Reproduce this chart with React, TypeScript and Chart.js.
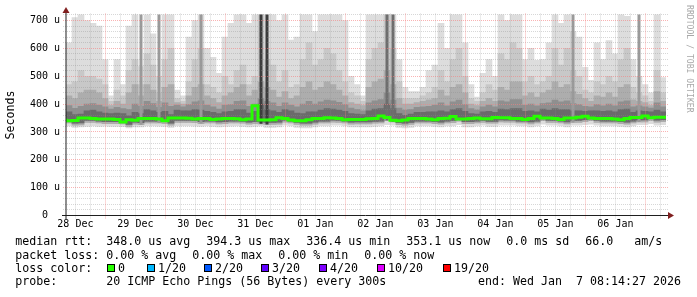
import React, { useEffect, useRef } from 'react';
import { Chart, registerables } from 'chart.js';

Chart.register(...registerables);

// ---- time axis (hours since 28 Dec 00:00) ----
const startHour = 8.24; // 28 Dec 08:14
const endHour = 248.24; // 07 Jan 08:14
const stepHours = 2.4; // width of one smoke column

const xTickHours = [12, 36, 60, 84, 108, 132, 156, 180, 204, 228];
const xTickLabels = ['28 Dec', '29 Dec', '30 Dec', '31 Dec', '01 Jan', '02 Jan', '03 Jan', '04 Jan', '05 Jan', '06 Jan'];
const yTickValues = [0, 100, 200, 300, 400, 500, 600, 700];
const yTickLabels = ['0  ', '100 u', '200 u', '300 u', '400 u', '500 u', '600 u', '700 u'];

// ---- median RTT (us) per column ----
const median = [
  348, 340, 341, 350, 350, 348, 346, 346, 346, 345,
  336, 344, 342, 348, 348, 348, 346, 340, 350, 350,
  350, 349, 346, 348, 348, 345, 346, 348, 348, 347,
  344, 346, 394, 343, 343, 344, 351, 348, 343, 340,
  340, 344, 348, 348, 351, 350, 348, 344, 345, 345,
  345, 347, 348, 357, 352, 342, 340, 343, 348, 348,
  348, 346, 344, 348, 349, 355, 346, 346, 348, 350,
  347, 347, 352, 351, 351, 348, 348, 345, 348, 356,
  350, 350, 348, 345, 350, 350, 353, 356, 350, 348,
  348, 348, 346, 344, 348, 352, 352, 357, 351, 353,
];

// ---- smoke bands (us) per column ----
const smokeMax = [
  620, 710, 725, 700, 690, 680, 560, 430, 560, 470,
  680, 725, 535, 725, 652, 500, 725, 725, 450, 430,
  640, 700, 725, 600, 568, 510, 640, 690, 725, 725,
  690, 725, 725, 725, 725, 700, 725, 630, 640, 725,
  725, 660, 725, 725, 725, 725, 700, 500, 470, 430,
  725, 725, 725, 725, 725, 560, 460, 445, 445, 460,
  520, 540, 690, 600, 725, 725, 620, 470, 425, 510,
  560, 500, 725, 700, 725, 725, 560, 600, 557, 560,
  620, 725, 690, 725, 660, 640, 532, 485, 620, 560,
  628, 580, 725, 715, 560, 500, 470, 440, 725, 495,
];
const band2Top = [
  470, 480, 520, 500, 500, 490, 470, 410, 450, 430,
  520, 560, 470, 580, 540, 440, 560, 600, 420, 410,
  480, 560, 600, 470, 460, 440, 500, 470, 520, 540,
  470, 500, 725, 560, 540, 480, 520, 460, 470, 560,
  620, 540, 560, 600, 580, 520, 480, 440, 430, 410,
  560, 600, 620, 725, 600, 480, 420, 420, 420, 430,
  440, 460, 520, 480, 560, 600, 500, 420, 410, 440,
  470, 450, 580, 560, 620, 600, 480, 500, 470, 480,
  500, 600, 540, 600, 520, 500, 450, 440, 480, 470,
  500, 480, 560, 600, 460, 440, 430, 410, 520, 440,
];
const band3Top = [
  430, 420, 440, 450, 450, 440, 420, 395, 410, 400,
  440, 470, 430, 470, 450, 410, 460, 470, 405, 400,
  430, 460, 470, 430, 420, 405, 430, 440, 460, 470,
  430, 450, 480, 460, 450, 425, 445, 420, 430, 460,
  480, 450, 460, 480, 470, 450, 430, 405, 400, 395,
  460, 480, 490, 520, 470, 420, 400, 400, 405, 410,
  415, 420, 450, 430, 460, 470, 440, 400, 395, 410,
  420, 410, 460, 450, 480, 480, 430, 440, 425, 440,
  450, 480, 460, 470, 445, 435, 420, 410, 430, 425,
  440, 425, 460, 470, 415, 410, 405, 395, 445, 410,
];
const band4Top = [
  395, 385, 392, 400, 402, 396, 390, 382, 388, 384,
  380, 400, 392, 410, 402, 388, 404, 392, 396, 390,
  398, 408, 412, 396, 390, 382, 396, 398, 410, 412,
  392, 400, 420, 410, 404, 392, 404, 396, 390, 400,
  410, 400, 408, 414, 412, 406, 398, 386, 380, 376,
  404, 412, 416, 440, 414, 386, 378, 380, 388, 390,
  392, 396, 404, 394, 408, 414, 398, 384, 378, 390,
  396, 390, 412, 408, 416, 416, 396, 400, 394, 402,
  404, 414, 408, 412, 402, 398, 392, 390, 398, 394,
  400, 394, 408, 412, 390, 394, 390, 386, 404, 390,
];
const band5Top = [
  372, 362, 364, 376, 378, 372, 368, 366, 368, 366,
  358, 370, 366, 380, 376, 370, 374, 362, 378, 376,
  376, 380, 378, 374, 370, 366, 372, 374, 380, 380,
  368, 374, 400, 380, 376, 370, 380, 376, 368, 366,
  372, 372, 378, 384, 382, 378, 374, 366, 364, 362,
  376, 382, 384, 400, 384, 366, 360, 364, 370, 370,
  372, 372, 376, 372, 380, 384, 374, 366, 364, 372,
  374, 370, 382, 380, 384, 384, 374, 376, 372, 382,
  378, 384, 380, 380, 376, 376, 374, 376, 376, 374,
  376, 372, 380, 382, 370, 376, 374, 372, 378, 372,
];
const smokeMin = [
  322, 316, 318, 320, 322, 320, 321, 320, 320, 319,
  314, 318, 318, 322, 322, 321, 320, 316, 322, 322,
  322, 321, 320, 322, 320, 318, 320, 321, 322, 320,
  318, 320, 322, 316, 316, 318, 324, 322, 316, 314,
  314, 318, 322, 322, 324, 324, 322, 318, 318, 318,
  318, 320, 322, 326, 324, 316, 314, 316, 322, 322,
  322, 320, 318, 322, 322, 326, 318, 318, 322, 324,
  320, 320, 324, 324, 324, 322, 322, 318, 322, 328,
  324, 324, 322, 318, 324, 324, 326, 328, 324, 322,
  322, 322, 320, 318, 322, 326, 326, 330, 324, 326,
];
const band2Low = [
  332, 324, 325, 334, 334, 332, 330, 330, 330, 329,
  320, 328, 326, 332, 332, 332, 330, 324, 334, 334,
  334, 333, 330, 332, 332, 329, 330, 332, 332, 331,
  328, 330, 329, 327, 327, 328, 335, 332, 327, 324,
  324, 328, 332, 332, 335, 334, 332, 328, 329, 329,
  329, 331, 332, 341, 336, 326, 324, 327, 332, 332,
  332, 330, 328, 332, 333, 339, 330, 330, 332, 334,
  331, 331, 336, 335, 335, 332, 332, 329, 332, 340,
  334, 334, 332, 329, 334, 334, 337, 340, 334, 332,
  332, 332, 330, 328, 332, 336, 336, 341, 335, 337,
];
const darkLow = [
  339, 331, 332, 341, 341, 339, 337, 337, 337, 336,
  327, 335, 333, 339, 339, 339, 337, 331, 341, 341,
  341, 340, 337, 339, 339, 336, 337, 339, 339, 338,
  335, 337, 336, 334, 334, 335, 342, 339, 334, 331,
  331, 335, 339, 339, 342, 341, 339, 335, 336, 336,
  336, 338, 339, 348, 343, 333, 331, 334, 339, 339,
  339, 337, 335, 339, 340, 346, 337, 337, 339, 341,
  338, 338, 343, 342, 342, 339, 339, 336, 339, 347,
  341, 341, 339, 336, 341, 341, 344, 347, 341, 339,
  339, 339, 337, 335, 339, 343, 343, 348, 342, 344,
];
// columns with full-height dark smoke streaks
const spikeDarkCols = [32, 33];
const spikeMidCols = [53, 54];
const spikeLightCols = [12, 15, 22, 84, 95];
const spikeTop = 730;

// ---- legend text ----
const rttItems = ['median rtt:', '348.0 us avg', '394.3 us max', '336.4 us min', '353.1 us now', '0.0 ms sd', '66.0   am/s'];
const lossItems = ['packet loss:', '0.00 % avg', '0.00 % max', '0.00 % min', '0.00 % now'];
const lossColorTitle = 'loss color:';
const lossColorLabels = ['0', '1/20', '2/20', '3/20', '4/20', '10/20', '19/20'];
const lossColors = ['#26ff00', '#00b8ff', '#0059ff', '#5e00ff', '#7e00ff', '#dd00ff', '#ff0000'];
const probeItems = ['probe:', '20 ICMP Echo Pings (56 Bytes) every 300s'];
const endText = 'end: Wed Jan  7 08:14:27 2026';
const watermark = 'RRDTOOL / TOBI OETIKER';
const yTitle = 'Seconds';

// ---- layout (pixels) ----
const W = 697;
const H = 297;
const lineTops = [235.3, 248.6, 261.6, 275.3];
const rttX = [15.3, 106.3, 206.3, 306.3, 406.3, 506.3, 585.3];
const lossX = [15.3, 106.3, 192.3, 278.3, 364.3];
const swatchX = [107, 147, 204, 261, 319, 377, 443];
const MONO = '"DejaVu Sans Mono", monospace';

const gridMinor = 'rgba(140,140,140,0.35)';
const gridMajor = 'rgba(245,128,128,0.6)';
const axisColor = 'rgb(31,31,31)';
const arrowColor = 'rgb(128,31,31)';

const rrdPlugin = {
  id: 'rrdGrid',
  beforeDatasetDraw(chart: any, args: any) {
    if (chart.data.datasets[args.index].label !== 'median') return;
    const { ctx, chartArea: ca } = chart;
    const x = chart.scales.x;
    const y = chart.scales.y;
    ctx.save();
    ctx.lineWidth = 1;
    ctx.setLineDash([1, 1]);
    for (let v = 20; v <= y.max; v += 20) {
      const py = Math.round(y.getPixelForValue(v) - 0.5) + 0.5;
      ctx.strokeStyle = v % 100 === 0 ? gridMajor : gridMinor;
      ctx.beginPath();
      ctx.moveTo(ca.left - 3, py);
      ctx.lineTo(ca.right + 2, py);
      ctx.stroke();
    }
    for (let h = 12; h < x.max; h += 6) {
      const px = Math.round(x.getPixelForValue(h) - 0.5) + 0.5;
      ctx.strokeStyle = h % 24 === 0 ? gridMajor : gridMinor;
      ctx.beginPath();
      ctx.moveTo(px, ca.top - 1);
      ctx.lineTo(px, ca.bottom + 3);
      ctx.stroke();
    }
    ctx.restore();
  },
  afterDraw(chart: any) {
    const { ctx, chartArea: ca } = chart;
    ctx.save();
    ctx.setLineDash([]);
    ctx.lineWidth = 1;
    ctx.strokeStyle = axisColor;
    ctx.beginPath();
    ctx.moveTo(ca.left - 4, ca.bottom);
    ctx.lineTo(ca.right + 3, ca.bottom);
    ctx.stroke();
    ctx.beginPath();
    ctx.moveTo(ca.left, ca.bottom + 4);
    ctx.lineTo(ca.left, ca.top - 2);
    ctx.stroke();
    ctx.fillStyle = arrowColor;
    ctx.beginPath();
    ctx.moveTo(ca.right + 2, ca.bottom - 3.5);
    ctx.lineTo(ca.right + 2, ca.bottom + 3.5);
    ctx.lineTo(ca.right + 8, ca.bottom);
    ctx.closePath();
    ctx.fill();
    ctx.beginPath();
    ctx.moveTo(ca.left - 3.5, ca.top - 1.5);
    ctx.lineTo(ca.left + 3.5, ca.top - 1.5);
    ctx.lineTo(ca.left, ca.top - 7.5);
    ctx.closePath();
    ctx.fill();
    ctx.restore();
  },
};

export default function App() {
  const ref = useRef<HTMLCanvasElement>(null);

  useEffect(() => {
    const canvas = ref.current;
    if (!canvas) return;
    const colX = (i: number) => startHour + stepHours * (i + 0.5);
    const band = (lows: number[], highs: number[]) => highs.map((h, i) => ({ x: colX(i), y: [lows[i], h] }));
    const spikes = (cols: number[]) => cols.map((i) => ({ x: colX(i), y: [band2Low[i], spikeTop] }));
    const barBase = { type: 'bar', grouped: false, barPercentage: 1, categoryPercentage: 1, borderWidth: 0 };
    const medianPts = median.map((v, i) => ({ x: startHour + stepHours * i, y: v }));
    medianPts.push({ x: endHour, y: median[median.length - 1] });

    const datasets: any[] = [
      { ...barBase, label: 'smoke1', data: band(smokeMin, smokeMax), backgroundColor: '#dddddd', order: 10 },
      { ...barBase, label: 'smoke2', data: band(band2Low, band2Top), backgroundColor: '#c8c8c8', order: 9 },
      { ...barBase, label: 'smoke3', data: band(band2Low, band3Top), backgroundColor: '#adadad', order: 8 },
      { ...barBase, label: 'smoke4', data: band(darkLow, band4Top), backgroundColor: '#8f8f8f', order: 7 },
      { ...barBase, label: 'smoke5', data: band(darkLow, band5Top), backgroundColor: '#6b6b6b', order: 6 },
      { ...barBase, label: 'spikeLight', data: spikes(spikeLightCols), backgroundColor: '#9a9a9a', barPercentage: 0.5, order: 5 },
      { ...barBase, label: 'spikeMid', data: spikes(spikeMidCols), backgroundColor: '#6e6e6e', barPercentage: 0.5, order: 4 },
      { ...barBase, label: 'spikeDark', data: spikes(spikeDarkCols), backgroundColor: '#3c3c3c', barPercentage: 0.5, order: 3 },
      {
        type: 'line', label: 'median', data: medianPts, borderColor: '#26ff00', borderWidth: 3,
        pointRadius: 0, stepped: 'after', fill: false, order: 0, borderJoinStyle: 'miter',
      },
    ];

    const tickFont = { family: MONO, size: 10 };
    const chart = new Chart(canvas, {
      type: 'bar',
      data: { datasets },
      options: {
        responsive: false,
        animation: false,
        devicePixelRatio: 1,
        layout: { padding: { left: 0, right: 31, top: 14.5, bottom: 0 } },
        plugins: { legend: { display: false }, tooltip: { enabled: false } },
        scales: {
          x: {
            type: 'linear',
            min: startHour,
            max: endHour,
            offset: false,
            grid: { display: false, drawTicks: false, offset: false },
            border: { display: false },
            afterBuildTicks: (s: any) => { s.ticks = xTickHours.map((v) => ({ value: v })); },
            afterFit: (s: any) => { s.height = H - 215.5; },
            ticks: {
              autoSkip: false, maxRotation: 0, minRotation: 0, padding: 3, color: '#000', font: tickFont,
              callback: (_v: any, i: number) => xTickLabels[i],
            },
          },
          y: {
            type: 'linear',
            min: 0,
            max: 721.5,
            grid: { display: false, drawTicks: false },
            border: { display: false },
            afterBuildTicks: (s: any) => { s.ticks = yTickValues.map((v) => ({ value: v })); },
            afterFit: (s: any) => { s.width = 66; },
            ticks: {
              autoSkip: false, padding: 6, color: '#000', font: tickFont,
              callback: (_v: any, i: number) => yTickLabels[i],
            },
            title: {
              display: true, text: yTitle, color: '#000',
              font: { family: MONO, size: 11.63 }, padding: { top: 4, bottom: 0 },
            },
          },
        },
      } as any,
      plugins: [rrdPlugin],
    } as any);
    return () => chart.destroy();
  }, []);

  const txt = (left: number, top: number): React.CSSProperties => ({
    position: 'absolute', left, top, fontFamily: MONO, fontSize: '11.63px', lineHeight: '13.33px',
    whiteSpace: 'pre', color: '#000', margin: 0,
  });

  return (
    <div style={{ position: 'fixed', left: 0, top: 0, width: W, height: H, background: '#fff', overflow: 'hidden' }}>
      <canvas ref={ref} width={W} height={H} style={{ position: 'absolute', left: 0, top: 0, width: W, height: H }} />
      {rttItems.map((t, i) => (
        <span key={'r' + i} style={txt(rttX[i], lineTops[0])}>{t}</span>
      ))}
      {lossItems.map((t, i) => (
        <span key={'l' + i} style={txt(lossX[i], lineTops[1])}>{t}</span>
      ))}
      <span style={txt(15.3, lineTops[2])}>{lossColorTitle}</span>
      {lossColorLabels.map((t, i) => (
        <React.Fragment key={'c' + i}>
          <span style={{ position: 'absolute', left: swatchX[i], top: 264, width: 8, height: 8, boxSizing: 'border-box', border: '1px solid #000', background: lossColors[i] }} />
          <span style={txt(swatchX[i] + 11, lineTops[2])}>{t}</span>
        </React.Fragment>
      ))}
      <span style={txt(15.3, lineTops[3])}>{probeItems[0]}</span>
      <span style={txt(106.3, lineTops[3])}>{probeItems[1]}</span>
      <span style={{ ...txt(0, lineTops[3]), left: undefined, right: 16 }}>{endText}</span>
      <span style={{ position: 'absolute', left: 684.5, top: 4.5, fontFamily: MONO, fontSize: '8.15px', lineHeight: '10px', writingMode: 'vertical-rl', whiteSpace: 'pre', color: '#a8a8a8' }}>{watermark}</span>
    </div>
  );
}
